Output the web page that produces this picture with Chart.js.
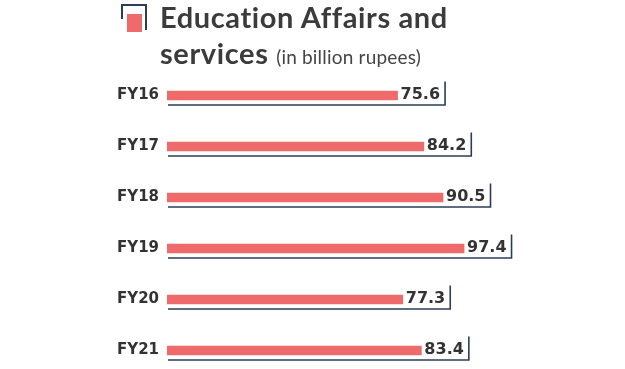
<!DOCTYPE html>
<html>
<head>
<meta charset="utf-8">
<script src="https://cdn.jsdelivr.net/npm/chart.js@4.4.1/dist/chart.umd.min.js"></script>
<style>
  html, body { margin: 0; padding: 0; background: #fff; overflow: hidden; }
  #wrap { position: relative; width: 625px; height: 400px; }
  #chart { position: absolute; left: 0; top: 0; }
  .icon { position: absolute; left: 121px; top: 4px; width: 26px; height: 26px; }
  .icon .frame { position: absolute; left: 0; top: 0; width: 26px; height: 26px;
    border-top: 2px solid #2c3e55; border-right: 2px solid #2c3e55; box-sizing: border-box; }
  .icon .left { position: absolute; left: 0; top: 0; width: 2px; height: 15px; background: #2c3e55; }
  .icon .fill { position: absolute; left: 6px; top: 10px; width: 15px; height: 18px; background: #ef6b6b; }
  .title { position: absolute; left: 160px; font-family: Lato, sans-serif; color: #3b3b3b; white-space: nowrap; }
  .t1 { top: 0px; font-size: 29px; letter-spacing: 0.6px; font-weight: bold; line-height: 34px; }
  .t2 { top: 36px; font-size: 29px; letter-spacing: 0.6px; font-weight: bold; line-height: 34px; }
  .t2 span { font-weight: normal; font-size: 19px; letter-spacing: 0.2px; color: #444; }
</style>
</head>
<body>
<div id="wrap">
  <canvas id="chart" width="625" height="400"></canvas>
  <div class="icon"><div class="frame"></div><div class="left"></div><div class="fill"></div></div>
  <div class="title t1">Education Affairs and</div>
  <div class="title t2">services <span>(in billion rupees)</span></div>
</div>
<script>
const years = ["FY16", "FY17", "FY18", "FY19", "FY20", "FY21"]
const spending = [75.6, 84.2, 90.5, 97.4, 77.3, 83.4]

const barColor = "#ef6b6b"
const lineColor = "#2c3e55"
const textColor = "#333333"

// value label plus the bracket line under each bar
const bracketLabels = {
  id: "bracketLabels",
  afterDatasetsDraw(chart) {
    const ctx = chart.ctx
    const meta = chart.getDatasetMeta(0)
    ctx.save()
    ctx.font = "bold 16px 'DejaVu Sans'"
    ctx.textBaseline = "middle"
    ctx.textAlign = "left"
    meta.data.forEach((bar, i) => {
      const label = spending[i].toFixed(1)
      const tx = bar.x + 3
      const w = ctx.measureText(label).width
      ctx.fillStyle = textColor
      ctx.fillText(label, tx, bar.y - 1)
      const right = tx + w + 5
      const bottom = bar.y + 9.5
      ctx.strokeStyle = lineColor
      ctx.lineWidth = 1.6
      ctx.beginPath()
      ctx.moveTo(bar.base + 1, bottom)
      ctx.lineTo(right, bottom)
      ctx.lineTo(right, bar.y - 14)
      ctx.stroke()
    })
    ctx.restore()
  }
}

new Chart(document.getElementById("chart"), {
  type: "bar",
  data: {
    labels: years,
    datasets: [{
      data: spending,
      backgroundColor: barColor,
      barThickness: 9,
      borderWidth: 0
    }]
  },
  options: {
    indexAxis: "y",
    animation: false,
    responsive: false,
    events: [],
    layout: {
      padding: { left: 0, right: 92, top: 70, bottom: 24 }
    },
    scales: {
      x: {
        display: false,
        min: 0,
        max: 120
      },
      y: {
        afterFit: (scale) => { scale.width = 167 },
        grid: { display: false },
        border: { display: false },
        ticks: {
          padding: 0,
          color: textColor,
          font: { family: "'DejaVu Sans'", size: 15, weight: "bold" }
        }
      }
    },
    plugins: {
      legend: { display: false },
      tooltip: { enabled: false }
    }
  },
  plugins: [bracketLabels]
})
</script>
</body>
</html>
